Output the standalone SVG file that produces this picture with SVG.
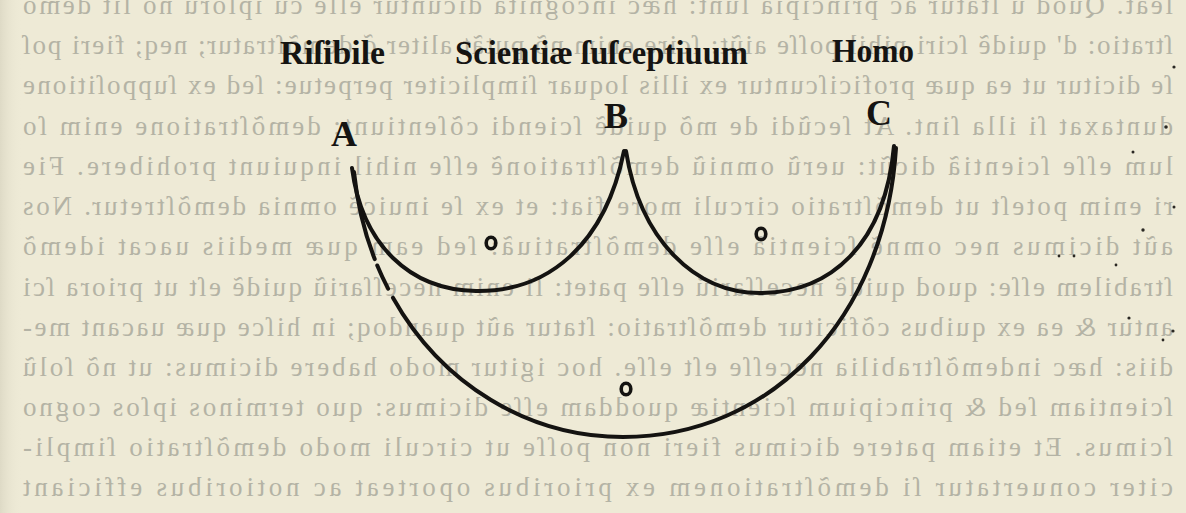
<svg xmlns="http://www.w3.org/2000/svg" width="1186" height="513" viewBox="0 0 1186 513">
<style>
.bg{font-family:"Liberation Serif","DejaVu Serif",serif;font-size:27px;fill:#b4b3a5}
.lbl{font-family:"Liberation Serif","DejaVu Serif",serif;font-weight:bold;fill:#151412}
.pt{font-family:"Liberation Serif","DejaVu Serif",serif;font-weight:bold;font-size:36px;fill:#151412}
.arc{fill:none;stroke:#141311;stroke-width:4;stroke-linecap:round}
.o{fill:none;stroke:#141311;stroke-width:3.6}
.speck{fill:#2a2823}
</style>
<defs>
<linearGradient id="edge" x1="0" y1="0" x2="1" y2="0">
<stop offset="0" stop-color="#dedac6"/>
<stop offset="1" stop-color="#eeead6" stop-opacity="0"/>
</linearGradient>
</defs>
<rect width="1186" height="513" fill="#eeead6"/>
<rect x="0" y="0" width="22" height="513" fill="url(#edge)"/>
<g id="verso-text" transform="matrix(-1 0 0 1 1196 0)">
<text class="bg" x="23" y="14" textLength="1150" lengthAdjust="spacing">leat. Quod u ſtatur ac principia ſunt: hæc incognita dicuntur eſſe cũ ipſorũ nõ ſit demõ</text>
<text class="bg" x="23" y="54" textLength="1150" lengthAdjust="spacing">ſtratio: d' quidẽ ſciri nihil poſſe aiũt: ſcire enim nõ putãt aliter q̃ demõſtratur; neq; fieri poſ</text>
<text class="bg" x="23" y="94" textLength="1150" lengthAdjust="spacing">ſe dicitur ut ea quæ proficiſcuntur ex illis loquar ſimpliciter perpetue: ſed ex ſuppoſitione</text>
<text class="bg" x="23" y="135" textLength="1150" lengthAdjust="spacing">duntaxat ſi illa ſint. At ſecũdi de mõ quidẽ ſciendi cõſentiunt: demõſtratione enim ſo</text>
<text class="bg" x="23" y="175" textLength="1150" lengthAdjust="spacing">lum eſſe ſcientiã dicũt: uerũ omniũ demõſtrationẽ eſſe nihil inquiunt prohibere. Fie</text>
<text class="bg" x="23" y="215" textLength="1150" lengthAdjust="spacing">ri enim poteſt ut demõſtratio circuli more fiat: et ex ſe inuicẽ omnia demõſtretur. Nos</text>
<text class="bg" x="23" y="255" textLength="1150" lengthAdjust="spacing">aũt dicimus nec omnẽ ſcientiã eſſe demõſtratiuã: ſed eam quæ mediis uacat idemõ</text>
<text class="bg" x="23" y="296" textLength="1150" lengthAdjust="spacing">ſtrabilem eſſe: quod quidẽ neceſſariũ eſſe patet: ſi enim neceſſariũ quidẽ eſt ut priora ſci</text>
<text class="bg" x="23" y="336" textLength="1150" lengthAdjust="spacing">antur &amp; ea ex quibus cõficitur demõſtratio: ſtatur aũt quandoq; in hiſce quæ uacant me-</text>
<text class="bg" x="23" y="376" textLength="1150" lengthAdjust="spacing">diis: hæc indemõſtrabilia neceſſe eſt eſſe. hoc igitur modo habere dicimus: ut nõ ſolũ</text>
<text class="bg" x="23" y="416" textLength="1150" lengthAdjust="spacing">ſcientiam ſed &amp; principium ſcientiæ quoddam eſſe dicimus: quo terminos ipſos cogno</text>
<text class="bg" x="23" y="456" textLength="1150" lengthAdjust="spacing">ſcimus. Et etiam patere dicimus fieri non poſſe ut circuli modo demõſtratio ſimpli-</text>
<text class="bg" x="23" y="496" textLength="1150" lengthAdjust="spacing">citer conuertatur ſi demõſtrationem ex prioribus oporteat ac notioribus efficiant</text>
</g>
<g id="specks">
<circle class="speck" cx="1174" cy="67" r="1.6"/>
<circle class="speck" cx="1166" cy="127" r="1.8"/>
<circle class="speck" cx="1133" cy="152" r="1.5"/>
<circle class="speck" cx="1174" cy="207" r="1.5"/>
<circle class="speck" cx="1143" cy="230" r="1.7"/>
<circle class="speck" cx="1059" cy="256" r="1.4"/>
<circle class="speck" cx="1074" cy="256" r="1.4"/>
<circle class="speck" cx="1116" cy="265" r="1.4"/>
<circle class="speck" cx="1129" cy="318" r="1.6"/>
<circle class="speck" cx="1173" cy="331" r="1.6"/>
<circle class="speck" cx="1163" cy="340" r="1.4"/>
</g>
<g id="connectors">
<path id="arc-AB" class="arc" d="M352,168 C362,245 410,290 476,291 C548,292 605,245 624,151"/>
<path id="arc-BC" class="arc" d="M626,151 C640,240 695,293 760,293 C830,293 885,245 894,146"/>
<path id="arc-AC" class="arc" pathLength="1000" stroke-dasharray="105 8 30 12 1000" d="M354,172 C370,330 488,437 623,437 C770,437 885,320 896,148"/>
</g>
<g id="node-risibile"><text class="lbl" x="280" y="64" font-size="34" textLength="105" lengthAdjust="spacingAndGlyphs">Riſibile</text></g>
<g id="node-scientiae"><text class="lbl" x="455" y="64" font-size="34" textLength="293" lengthAdjust="spacingAndGlyphs">Scientiæ ſuſceptiuum</text></g>
<g id="node-homo"><text class="lbl" x="832" y="62" font-size="34" textLength="82" lengthAdjust="spacingAndGlyphs">Homo</text></g>
<g id="node-A"><text class="pt" x="331" y="146">A</text></g>
<g id="node-B"><text class="pt" x="604" y="128">B</text></g>
<g id="node-C"><text class="pt" x="866" y="125">C</text></g>
<g id="marks">
<ellipse class="o" cx="491" cy="243" rx="4.8" ry="5.8"/>
<ellipse class="o" cx="761" cy="234" rx="4.8" ry="5.8"/>
<ellipse class="o" cx="626" cy="389" rx="4.8" ry="5.8"/>
</g>
</svg>
